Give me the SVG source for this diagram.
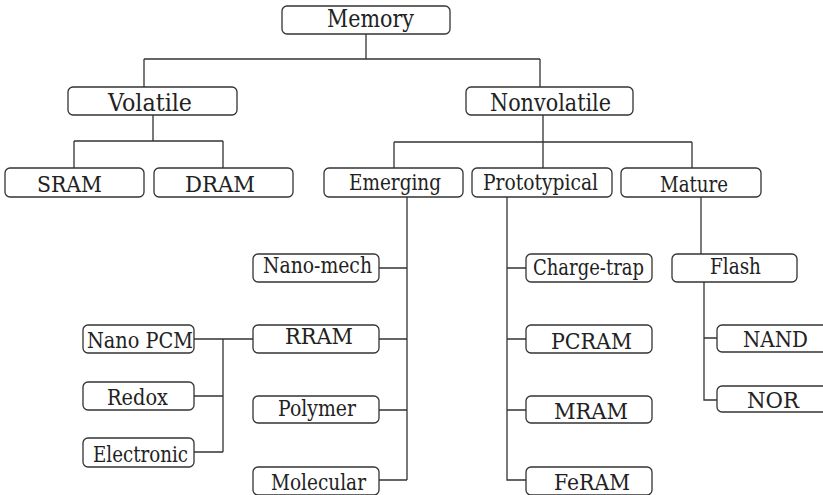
<svg xmlns="http://www.w3.org/2000/svg" width="823" height="495" viewBox="0 0 823 495">
<style>
.box{fill:#fff;stroke:#333;stroke-width:1.3}
.c{fill:none;stroke:#333;stroke-width:1.3}
text{font-family:'DejaVu Serif','Liberation Serif',serif;font-size:22px;fill:#222;text-anchor:middle}
.b{font-size:23.5px}
</style>
<rect width="823" height="495" fill="#fff"/>
<g id="connectors" class="c">
<path d="M366 34V59M144 59H540M144 59V87M540 59V87"/>
<path d="M153 115V141M74 141H223M74 141V168M223 141V168"/>
<path d="M543 115V168M394 142H692M394 142V168M692 142V168"/>
<path d="M407 197V480M379 268H407M379 339H407M379 410H407M379 480H407"/>
<path d="M194 339H253M223 339V452M194 396H223M194 452H223"/>
<path d="M507 197V480H526M507 268H526M507 339H526M507 410H526"/>
<path d="M701 197V254"/>
<path d="M704 282V400H717M704 338H717"/>
</g>
<g id="memory"><rect class="box" x="282" y="6" width="168" height="28" rx="5"/><text class="b" x="370.5" y="27" textLength="87" lengthAdjust="spacingAndGlyphs">Memory</text></g>
<g id="volatile"><rect class="box" x="68" y="87" width="169" height="28" rx="5"/><text class="b" x="150" y="111" textLength="84" lengthAdjust="spacingAndGlyphs">Volatile</text></g>
<g id="nonvolatile"><rect class="box" x="466" y="87" width="167" height="28" rx="5"/><text class="b" x="550.5" y="111" textLength="121" lengthAdjust="spacingAndGlyphs">Nonvolatile</text></g>
<g id="sram"><rect class="box" x="5" y="168" width="139" height="29" rx="5"/><text x="69.5" y="192" textLength="65" lengthAdjust="spacingAndGlyphs">SRAM</text></g>
<g id="dram"><rect class="box" x="154" y="168" width="139" height="29" rx="5"/><text x="220" y="192" textLength="70" lengthAdjust="spacingAndGlyphs">DRAM</text></g>
<g id="emerging"><rect class="box" x="324" y="168" width="139" height="29" rx="5"/><text x="395" y="190" textLength="92" lengthAdjust="spacingAndGlyphs">Emerging</text></g>
<g id="prototypical"><rect class="box" x="472" y="168" width="140" height="29" rx="5"/><text x="540.5" y="190" textLength="115" lengthAdjust="spacingAndGlyphs">Prototypical</text></g>
<g id="mature"><rect class="box" x="621" y="168" width="140" height="29" rx="5"/><text x="694" y="192" textLength="68" lengthAdjust="spacingAndGlyphs">Mature</text></g>
<g id="nanomech"><rect class="box" x="253" y="254" width="126" height="28" rx="5"/><text x="317.5" y="273" textLength="109" lengthAdjust="spacingAndGlyphs">Nano-mech</text></g>
<g id="rram"><rect class="box" x="253" y="325" width="126" height="28" rx="5"/><text x="319" y="344" textLength="68" lengthAdjust="spacingAndGlyphs">RRAM</text></g>
<g id="polymer"><rect class="box" x="253" y="396" width="126" height="27" rx="5"/><text x="317" y="416" textLength="78" lengthAdjust="spacingAndGlyphs">Polymer</text></g>
<g id="molecular"><rect class="box" x="253" y="467" width="126" height="28" rx="5"/><text x="318.5" y="490" textLength="95" lengthAdjust="spacingAndGlyphs">Molecular</text></g>
<g id="nanopcm"><rect class="box" x="83" y="325" width="111" height="28" rx="5"/><text x="140" y="348" textLength="106" lengthAdjust="spacingAndGlyphs">Nano PCM</text></g>
<g id="redox"><rect class="box" x="83" y="382" width="111" height="28" rx="5"/><text x="137.5" y="405" textLength="61" lengthAdjust="spacingAndGlyphs">Redox</text></g>
<g id="electronic"><rect class="box" x="83" y="438" width="111" height="29" rx="5"/><text x="140.5" y="462" textLength="95" lengthAdjust="spacingAndGlyphs">Electronic</text></g>
<g id="chargetrap"><rect class="box" x="526" y="254" width="126" height="28" rx="5"/><text x="588.5" y="275" textLength="111" lengthAdjust="spacingAndGlyphs">Charge-trap</text></g>
<g id="pcram"><rect class="box" x="526" y="325" width="126" height="28" rx="5"/><text x="591.5" y="349" textLength="81" lengthAdjust="spacingAndGlyphs">PCRAM</text></g>
<g id="mram"><rect class="box" x="526" y="396" width="126" height="27" rx="5"/><text x="591" y="419" textLength="74" lengthAdjust="spacingAndGlyphs">MRAM</text></g>
<g id="feram"><rect class="box" x="526" y="467" width="126" height="28" rx="5"/><text x="592" y="490" textLength="76" lengthAdjust="spacingAndGlyphs">FeRAM</text></g>
<g id="flash"><rect class="box" x="672" y="254" width="125" height="28" rx="5"/><text x="735.5" y="274" textLength="51" lengthAdjust="spacingAndGlyphs">Flash</text></g>
<g id="nand"><rect class="box" x="717" y="325" width="128" height="27" rx="5"/><text x="775.5" y="347" textLength="65" lengthAdjust="spacingAndGlyphs">NAND</text></g>
<g id="nor"><rect class="box" x="717" y="386" width="128" height="26" rx="5"/><text x="773" y="408" textLength="52" lengthAdjust="spacingAndGlyphs">NOR</text></g>
</svg>
